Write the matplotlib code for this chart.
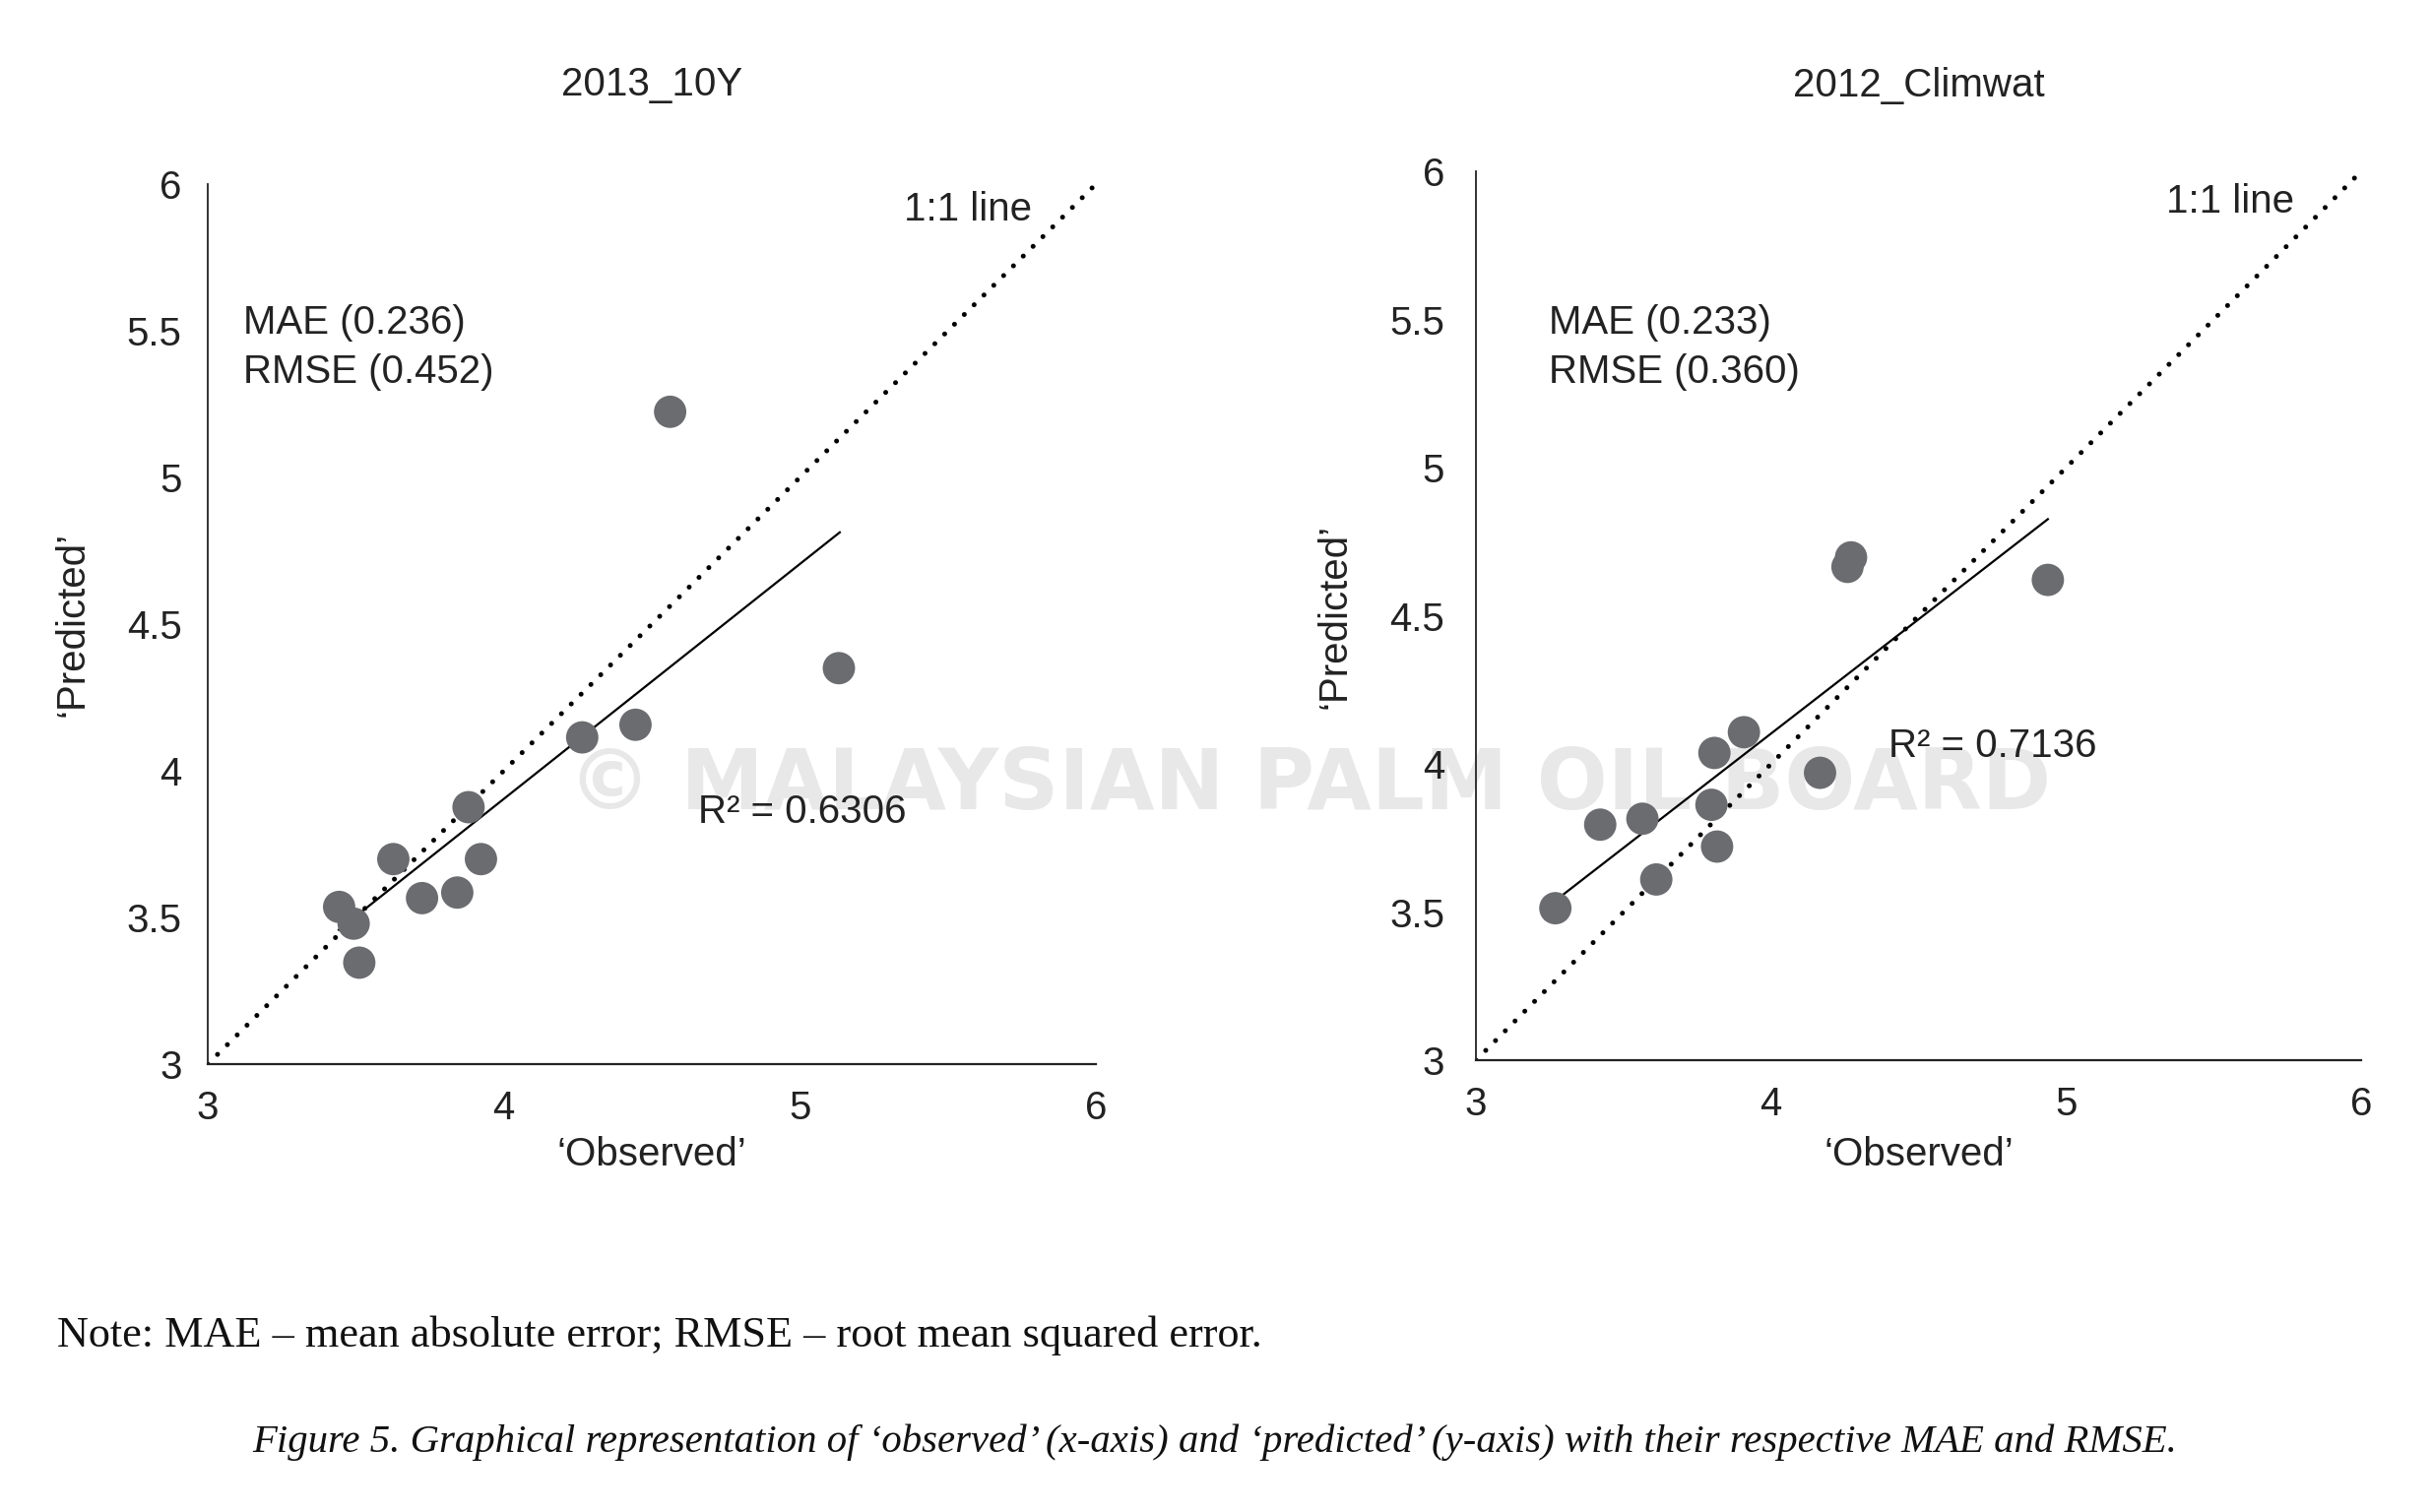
import matplotlib

matplotlib.use("Agg")

import matplotlib.pyplot as plt


# 2013_10Y panel
obs_10y = [3.444, 3.493, 3.512, 3.627, 3.724, 3.843, 3.881, 3.923, 4.265, 4.445, 4.562, 5.132]
pred_10y = [3.536, 3.479, 3.346, 3.699, 3.566, 3.585, 3.876, 3.699, 4.114, 4.157, 5.224, 4.350]
trend_10y_x = [3.443, 5.135]
trend_10y_y = [3.458, 4.813]

# 2012_Climwat panel
obs_climwat = [3.269, 3.421, 3.564, 3.611, 3.808, 3.798, 3.817, 3.908, 4.166, 4.259, 4.271, 4.938]
pred_climwat = [3.513, 3.795, 3.815, 3.610, 4.037, 3.862, 3.721, 4.107, 3.970, 4.665, 4.697, 4.621]
trend_climwat_x = [3.276, 4.938]
trend_climwat_y = [3.544, 4.826]

one_to_one = [3, 6]
x_ticks = [3, 4, 5, 6]
x_tick_labels = ["3", "4", "5", "6"]
y_ticks = [3, 3.5, 4, 4.5, 5, 5.5, 6]
y_tick_labels = ["3", "3.5", "4", "4.5", "5", "5.5", "6"]

panels = [
    dict(title="2013_10Y", x=obs_10y, y=pred_10y, tx=trend_10y_x, ty=trend_10y_y,
         mae="MAE (0.236)", rmse="RMSE (0.452)", r2="R² = 0.6306"),
    dict(title="2012_Climwat", x=obs_climwat, y=pred_climwat, tx=trend_climwat_x, ty=trend_climwat_y,
         mae="MAE (0.233)", rmse="RMSE (0.360)", r2="R² = 0.7136"),
]

# layout (figure fractions, text spots in axes fractions)
AX_RECTS = [[0.0854, 0.2962, 0.3652, 0.5820], [0.6069, 0.2988, 0.3640, 0.5879]]
TITLE_PAD = [65, 55]
YTICK_PAD = [19, 23]
XLABEL_PAD = [6, 9]
STAT_POS = [(0.040, 0.842, 0.786), (0.082, 0.829, 0.774)]
LINE11_POS = [(0.784, 0.971), (0.780, 0.966)]
R2_POS = [(0.552, 0.286), (0.466, 0.353)]

POINT_COLOR = "#6b6c70"
TEXT_COLOR = "#222222"
FS = 29

plt.rcParams["font.family"] = ["Liberation Sans", "DejaVu Sans"]

fig = plt.figure(figsize=(24.7, 15.36), dpi=100)

# faint watermark behind the panels
fig.text(0.5385, 0.480, "© MALAYSIAN PALM OIL BOARD", fontsize=61, fontweight="bold",
         family="DejaVu Sans", color="#e8e8e8", ha="center", va="center", zorder=-1)

for i, p in enumerate(panels):
    ax = fig.add_axes(AX_RECTS[i])
    ax.patch.set_alpha(0)
    ax.plot(one_to_one, one_to_one, color="black", linewidth=3.6,
            linestyle=(0, (0.01, 2.8)), dash_capstyle="round", zorder=2)
    ax.plot(p["tx"], p["ty"], color="black", linewidth=1.6, zorder=2)
    ax.scatter(p["x"], p["y"], s=560, color=POINT_COLOR, edgecolors="none", zorder=3)

    ax.set_xlim(3, 6)
    ax.set_ylim(3, 6)
    ax.set_xticks(x_ticks)
    ax.set_xticklabels(x_tick_labels)
    ax.set_yticks(y_ticks)
    ax.set_yticklabels(y_tick_labels)
    ax.tick_params(axis="x", length=0, pad=19, labelsize=FS, colors=TEXT_COLOR)
    ax.tick_params(axis="y", length=0, pad=YTICK_PAD[i], labelsize=FS, colors=TEXT_COLOR)
    for side in ["top", "right"]:
        ax.spines[side].set_visible(False)
    ax.spines["left"].set_linewidth(1.3)
    ax.spines["bottom"].set_linewidth(1.6)
    ax.spines["left"].set_color(TEXT_COLOR)
    ax.spines["bottom"].set_color(TEXT_COLOR)

    ax.set_title(p["title"], fontsize=FS, pad=TITLE_PAD[i], color=TEXT_COLOR)
    ax.set_xlabel("‘Observed’", fontsize=FS, labelpad=XLABEL_PAD[i], color=TEXT_COLOR)
    ax.set_ylabel("‘Predicted’", fontsize=FS, labelpad=26, color=TEXT_COLOR)

    sx, my, ry = STAT_POS[i]
    ax.text(sx, my, p["mae"], transform=ax.transAxes, fontsize=FS, va="center", color=TEXT_COLOR)
    ax.text(sx, ry, p["rmse"], transform=ax.transAxes, fontsize=FS, va="center", color=TEXT_COLOR)
    lx, ly = LINE11_POS[i]
    ax.text(lx, ly, "1:1 line", transform=ax.transAxes, fontsize=FS, va="center", color=TEXT_COLOR)
    rx, r2y = R2_POS[i]
    ax.text(rx, r2y, p["r2"], transform=ax.transAxes, fontsize=FS, va="center", color=TEXT_COLOR)

fig.text(0.0235, 1 - 1368 / 1536, "Note: MAE – mean absolute error; RMSE – root mean squared error.",
         fontsize=31.9, family="Liberation Serif", va="baseline", ha="left", color="#111111")
fig.text(0.4996, 1 - 1475 / 1536,
         "Figure 5. Graphical representation of ‘observed’ (x-axis) and ‘predicted’ (y-axis) "
         "with their respective MAE and RMSE.",
         fontsize=29.3, family="Liberation Serif", style="italic", va="baseline", ha="center",
         color="#111111")

fig.savefig("out.png", dpi=100)
plt.close(fig)
